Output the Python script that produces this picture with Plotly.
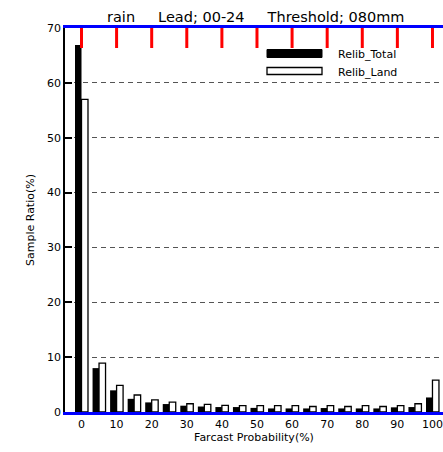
import plotly.graph_objects as go

# Forecast probability bins (%)
prob_bins = [0, 5, 10, 15, 20, 25, 30, 35, 40, 45, 50,
             55, 60, 65, 70, 75, 80, 85, 90, 95, 100]

# Sample ratio (%) per bin
relib_total = [66.9, 8.0, 3.95, 2.4, 1.75, 1.45, 1.15, 1.0, 0.9, 0.9, 0.75,
               0.65, 0.65, 0.65, 0.72, 0.65, 0.65, 0.65, 0.85, 0.9, 2.65]
relib_land = [57.0, 8.9, 4.85, 3.1, 2.2, 1.8, 1.5, 1.4, 1.2, 1.15, 1.15,
              1.15, 1.15, 1.0, 1.15, 1.0, 1.15, 1.0, 1.15, 1.5, 5.8]

series_names = ["Relib_Total", "Relib_Land"]
title_text = "rain     Lead; 00-24     Threshold; 080mm"
x_ticks = [0, 10, 20, 30, 40, 50, 60, 70, 80, 90, 100]
y_ticks = [0, 10, 20, 30, 40, 50, 60, 70]

FONT = "DejaVu Sans"
W, H = 443, 452
ML, MT, MB, MR = 65, 28, 40, 0
PW, PH = W - ML - MR, H - MT - MB
TICK_LEN = 20


def px_x(p):
    return (p - ML) / PW


def px_y(p):
    return (H - MB - p) / PH


fig = go.Figure()
fig.add_trace(go.Bar(x=prob_bins, y=relib_total, name=series_names[0],
                     marker=dict(color="black", line=dict(width=0))))
fig.add_trace(go.Bar(x=prob_bins, y=relib_land, name=series_names[1],
                     marker=dict(color="white", line=dict(color="black", width=1.3))))

shapes = [
    dict(type="rect", xref="paper", yref="paper",
         x0=px_x(267), x1=px_x(322), y0=px_y(57.5), y1=px_y(49.5),
         fillcolor="black", line=dict(color="black", width=1)),
    dict(type="rect", xref="paper", yref="paper",
         x0=px_x(267), x1=px_x(322), y0=px_y(74.5), y1=px_y(67.5),
         fillcolor="white", line=dict(color="black", width=1.3)),
]
for t in x_ticks:
    shapes.append(dict(type="line", xref="x", yref="paper",
                       x0=t, x1=t, y0=1, y1=1 - TICK_LEN / PH,
                       line=dict(color="red", width=3)))

annotations = [
    dict(text=title_text, xref="paper", yref="paper",
         x=px_x(256), y=px_y(17), xanchor="center", yanchor="middle",
         showarrow=False, font=dict(family=FONT, size=14.5, color="black")),
    dict(text=series_names[0], xref="paper", yref="paper", x=px_x(336), y=px_y(54),
         xanchor="left", yanchor="middle", showarrow=False,
         font=dict(family=FONT, size=11, color="black")),
    dict(text=series_names[1], xref="paper", yref="paper", x=px_x(336), y=px_y(72),
         xanchor="left", yanchor="middle", showarrow=False,
         font=dict(family=FONT, size=11, color="black")),
]

x_range = [-4.7, 103.0]

fig.update_layout(
    width=W, height=H,
    margin=dict(l=ML, r=MR, t=MT, b=MB),
    paper_bgcolor="white", plot_bgcolor="white",
    barmode="group", bargap=0.26, bargroupgap=0.0,
    showlegend=False,
    font=dict(family=FONT, size=11, color="black"),
    xaxis=dict(range=x_range, tickvals=x_ticks, ticks="",
               mirror=True, showgrid=False, zeroline=False, showline=True,
               linecolor="blue", linewidth=3,
               tickfont=dict(family=FONT, size=11, color="black"),
               title=dict(text="Farcast Probability(%)", standoff=2,
                          font=dict(family=FONT, size=11, color="black"))),
    yaxis=dict(range=[0, 70], tickvals=y_ticks, ticks="inside", ticklen=7,
               tickwidth=1.5, tickcolor="black", showline=True,
               linecolor="black", linewidth=1.5, zeroline=False,
               showgrid=True, gridcolor="#555555", gridwidth=1, griddash="5px,4px",
               tickfont=dict(family=FONT, size=11, color="black"),
               title=dict(text="Sample Ratio(%)", standoff=10,
                          font=dict(family=FONT, size=11, color="black"))),
    shapes=shapes,
    annotations=annotations,
)

fig.write_html("out.html")
